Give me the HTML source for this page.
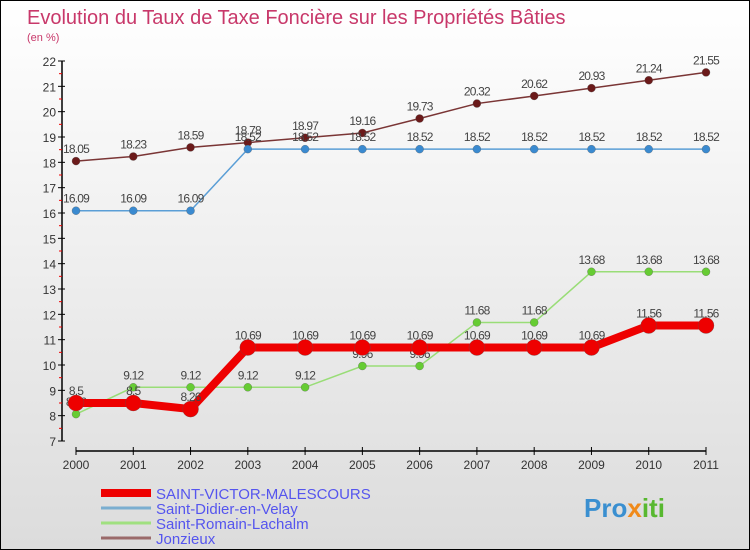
<!DOCTYPE html>
<html><head><meta charset="utf-8">
<style>
body{margin:0;}
#wrap{width:748px;height:548px;border:1px solid #000;position:relative;overflow:hidden;background:linear-gradient(#ffffff,#dcdcdc);font-family:"Liberation Sans",sans-serif;}
</style></head>
<body>
<div id="wrap">
<svg id="chart" width="748" height="548">
<text x="26" y="23" font-size="20" fill="#c8386a">Evolution du Taux de Taxe Foncière sur les Propriétés Bâties</text>
<text x="26" y="40" font-size="11" fill="#c8386a">(en %)</text>
<g id="axes"></g>
<g id="series"></g>
<g id="legend"></g>
<text x="583" y="516" font-size="26" font-weight="bold" fill="#3a8fd0">Pro<tspan fill="#f08a1a">x</tspan><tspan fill="#58b830">iti</tspan></text>
</svg>
</div>
<script>
const years=[2000,2001,2002,2003,2004,2005,2006,2007,2008,2009,2010,2011];
const yTicks=[7,8,9,10,11,12,13,14,15,16,17,18,19,20,21,22];
const svm=[8.5,8.5,8.26,10.69,10.69,10.69,10.69,10.69,10.69,10.69,11.56,11.56];
const didier=[16.09,16.09,16.09,18.52,18.52,18.52,18.52,18.52,18.52,18.52,18.52,18.52];
const romain=[8.06,9.12,9.12,9.12,9.12,9.96,9.96,11.68,11.68,13.68,13.68,13.68];
const jonzieux=[18.05,18.23,18.59,18.78,18.97,19.16,19.73,20.32,20.62,20.93,21.24,21.55];
const names=["SAINT-VICTOR-MALESCOURS","Saint-Didier-en-Velay","Saint-Romain-Lachalm","Jonzieux"];
const NS="http://www.w3.org/2000/svg";
const X=i=>75+i*(630/11);
const Y=v=>440-(v-7)*(380/15);
function mk(tag,attrs,parent){const e=document.createElementNS(NS,tag);for(const k in attrs)e.setAttribute(k,attrs[k]);parent.appendChild(e);return e;}
const ax=document.getElementById('axes');
let l=mk('line',{x1:61,y1:Y(22),x2:61,y2:Y(7),stroke:'#000','stroke-width':1.5},ax);


yTicks.forEach(v=>{
 mk('line',{x1:57,y1:Y(v),x2:64,y2:Y(v),stroke:'#000'},ax);
 if(v<22) mk('line',{x1:58,y1:Y(v+0.5),x2:61,y2:Y(v+0.5),stroke:'#e00'},ax);
 const t=mk('text',{x:55,y:Y(v)+5,'font-size':12,fill:'#333','text-anchor':'end'},ax);
 t.textContent=v;
 
 
});
l=mk('line',{x1:75,y1:450,x2:705,y2:450,stroke:'#000','stroke-width':1.5},ax);


years.forEach((y,i)=>{
 mk('line',{x1:X(i),y1:446,x2:X(i),y2:454,stroke:'#000'},ax);
 const t=mk('text',{x:X(i),y:468,'font-size':12,fill:'#333','text-anchor':'middle'},ax);
 t.textContent=y;
 
 
});
const sg=document.getElementById('series');
function series(data,color,w,r,dot,name){
 const g=mk('g',{},sg);
 
 
 mk('polyline',{points:data.map((v,i)=>X(i)+','+Y(v)).join(' '),fill:'none',stroke:color,'stroke-width':w},g);
 data.forEach((v,i)=>{
  const c=mk('circle',{cx:X(i),cy:Y(v),r:r,fill:dot,stroke:'#555','stroke-width':0.3},g);
  
  
  const t=mk('text',{x:X(i),y:Y(v)-8,'font-size':12,fill:'#444','text-anchor':'middle','letter-spacing':'-0.8'},g);
  t.textContent=String(v);
  
  
 });
}
series(jonzieux,'#7a3535',1.5,4,'#6b1a1a','series-jonzieux');
series(didier,'#5a9ed6',1.5,4,'#3a8ad0','series-saint-didier');
series(romain,'#99dd77',1.5,4,'#66cc33','series-saint-romain');
series(svm,'#ee0000',8,8,'#ee0000','series-saint-victor');
const lg=document.getElementById('legend');
const lc=[['#ee0000',8],['#7aaed0',3],['#a0e080',3],['#9a6a6a',3]];
names.forEach((n,i)=>{
 const y=492+i*15;
 const ln=mk('line',{x1:100,y1:y,x2:150,y2:y,stroke:lc[i][0],'stroke-width':lc[i][1]},lg);
 
 
 const t=mk('text',{x:155,y:y+6,'font-size':15,fill:'#5555ee'},lg);
 t.textContent=n;
 
 
});
</script>
</body></html>
